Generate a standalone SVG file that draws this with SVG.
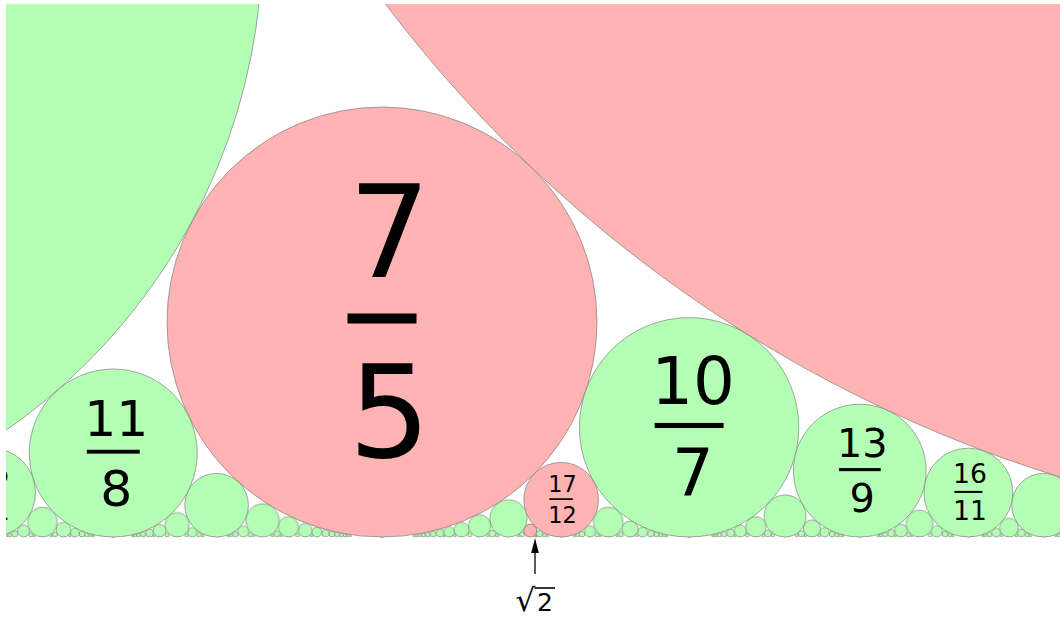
<svg xmlns="http://www.w3.org/2000/svg" width="1060" height="619" viewBox="0 0 1060 619">
<style>
.g{fill:#b3ffb3;stroke:#808080;stroke-width:0.7}
.p{fill:#ffb3b3;stroke:#808080;stroke-width:0.7}
.lbl{font-family:"DejaVu Sans","Liberation Sans",sans-serif;text-anchor:middle;fill:#000}
.bar{fill:#000}
</style>
<defs>
<clipPath id="clip"><rect x="6" y="4" width="1054" height="533.6"/></clipPath>
<pattern id="q14" patternUnits="userSpaceOnUse" x="-15051.929" y="481.15" width="767.857" height="56.85"><circle class="g" cx="383.929" cy="28.42" r="27.423"/></pattern>
<pattern id="q15" patternUnits="userSpaceOnUse" x="-15026.333" y="488.22" width="716.667" height="49.78"><circle class="g" cx="358.333" cy="24.89" r="23.889"/></pattern>
<pattern id="q16" patternUnits="userSpaceOnUse" x="-15003.9375" y="494.01" width="671.875" height="43.99"><circle class="g" cx="335.9375" cy="22.0" r="20.996"/></pattern>
<pattern id="q17" patternUnits="userSpaceOnUse" x="-14984.176" y="498.8" width="632.353" height="39.2" ><circle class="g" cx="316.176" cy="19.6" r="18.599"/></pattern>
<pattern id="q18" patternUnits="userSpaceOnUse" x="-14966.611" y="502.82" width="597.222" height="35.18"><circle class="g" cx="298.611" cy="17.59" r="16.590"/></pattern>
<pattern id="q19" patternUnits="userSpaceOnUse" x="-14950.895" y="506.22" width="565.789" height="31.78"><circle class="g" cx="282.895" cy="15.89" r="14.889"/></pattern>
<pattern id="q20" patternUnits="userSpaceOnUse" x="-14936.75" y="509.125" width="537.5" height="28.875"><circle class="g" cx="268.75" cy="14.4375" r="13.4375"/></pattern>
<pattern id="q21" patternUnits="userSpaceOnUse" x="-14923.952" y="511.62" width="511.905" height="26.38"><circle class="g" cx="255.952" cy="13.19" r="12.188"/></pattern>
<pattern id="q22" patternUnits="userSpaceOnUse" x="-14912.318" y="513.79" width="488.636" height="24.21"><circle class="g" cx="244.318" cy="12.1" r="11.105"/></pattern>
<pattern id="q23" patternUnits="userSpaceOnUse" x="-14901.696" y="515.68" width="467.391" height="22.32"><circle class="g" cx="233.696" cy="11.16" r="10.161"/></pattern>
<pattern id="q24" patternUnits="userSpaceOnUse" x="-14891.958" y="517.34" width="447.917" height="20.66"><circle class="g" cx="223.958" cy="10.33" r="9.332"/></pattern>
<pattern id="q25" patternUnits="userSpaceOnUse" x="-14883" y="518.8" width="430" height="19.2"><circle class="g" cx="215" cy="9.6" r="8.6"/></pattern>
<pattern id="q26" patternUnits="userSpaceOnUse" x="-14874.731" y="520.1" width="413.462" height="17.9"><circle class="g" cx="206.731" cy="8.95" r="7.951"/></pattern>
<pattern id="q27" patternUnits="userSpaceOnUse" x="-14867.074" y="521.25" width="398.148" height="16.75"><circle class="g" cx="199.074" cy="8.37" r="7.373"/></pattern>
<pattern id="q28" patternUnits="userSpaceOnUse" x="-14859.964" y="522.29" width="383.929" height="15.71"><circle class="g" cx="191.964" cy="7.86" r="6.856"/></pattern>
<pattern id="q29" patternUnits="userSpaceOnUse" x="-14853.345" y="523.22" width="370.690" height="14.78"><circle class="g" cx="185.345" cy="7.39" r="6.391"/></pattern>
<pattern id="q30" patternUnits="userSpaceOnUse" x="-14847.167" y="524.06" width="358.333" height="13.94"><circle class="g" cx="179.167" cy="6.97" r="5.972"/></pattern>
<pattern id="q31" patternUnits="userSpaceOnUse" x="-14841.387" y="524.81" width="346.774" height="13.19"><circle class="g" cx="173.387" cy="6.59" r="5.593"/></pattern>
<pattern id="q32" patternUnits="userSpaceOnUse" x="-14835.969" y="525.5" width="335.9375" height="12.5"><circle class="g" cx="167.969" cy="6.25" r="5.249"/></pattern>
<pattern id="q33" patternUnits="userSpaceOnUse" x="-14830.879" y="526.13" width="325.758" height="11.87"><circle class="g" cx="162.879" cy="5.94" r="4.936"/></pattern>
<pattern id="q34" patternUnits="userSpaceOnUse" x="-14826.088" y="526.7" width="316.176" height="11.3"><circle class="g" cx="158.088" cy="5.65" r="4.650"/></pattern>
<pattern id="q35" patternUnits="userSpaceOnUse" x="-14821.571" y="527.22" width="307.143" height="10.78"><circle class="g" cx="153.571" cy="5.39" r="4.388"/></pattern>
<pattern id="q36" patternUnits="userSpaceOnUse" x="-14817.306" y="527.71" width="298.611" height="10.29"><circle class="g" cx="149.306" cy="5.15" r="4.147"/></pattern>
<pattern id="q37" patternUnits="userSpaceOnUse" x="-14813.270" y="528.15" width="290.541" height="9.85"><circle class="g" cx="145.270" cy="4.93" r="3.926"/></pattern>
<pattern id="q38" patternUnits="userSpaceOnUse" x="-14809.447" y="528.56" width="282.895" height="9.44"><circle class="g" cx="141.447" cy="4.72" r="3.722"/></pattern>
<pattern id="q39" patternUnits="userSpaceOnUse" x="-14805.821" y="528.93" width="275.641" height="9.07"><circle class="g" cx="137.821" cy="4.53" r="3.534"/></pattern>
<pattern id="q40" patternUnits="userSpaceOnUse" x="-14802.375" y="529.28" width="268.75" height="8.72"><circle class="g" cx="134.375" cy="4.36" r="3.359"/></pattern>
<pattern id="q41" patternUnits="userSpaceOnUse" x="-14799.098" y="529.61" width="262.195" height="8.39"><circle class="g" cx="131.098" cy="4.2" r="3.197"/></pattern>
<pattern id="q42" patternUnits="userSpaceOnUse" x="-14795.976" y="529.91" width="255.952" height="8.09"><circle class="g" cx="127.976" cy="4.05" r="3.047"/></pattern>
<pattern id="q43" patternUnits="userSpaceOnUse" x="-14793" y="530.19" width="250" height="7.81"><circle class="g" cx="125" cy="3.91" r="2.907"/></pattern>
<pattern id="q44" patternUnits="userSpaceOnUse" x="-14790.159" y="530.45" width="244.318" height="7.55"><circle class="g" cx="122.159" cy="3.78" r="2.776"/></pattern>
<pattern id="q45" patternUnits="userSpaceOnUse" x="-14787.444" y="530.69" width="238.889" height="7.31"><circle class="g" cx="119.444" cy="3.65" r="2.654"/></pattern>
<pattern id="q46" patternUnits="userSpaceOnUse" x="-14784.848" y="530.92" width="233.696" height="7.08"><circle class="g" cx="116.848" cy="3.54" r="2.540"/></pattern>
<pattern id="q47" patternUnits="userSpaceOnUse" x="-14782.362" y="531.13" width="228.723" height="6.87"><circle class="g" cx="114.362" cy="3.43" r="2.433"/></pattern>
<pattern id="q48" patternUnits="userSpaceOnUse" x="-14779.979" y="531.33" width="223.958" height="6.67"><circle class="g" cx="111.979" cy="3.33" r="2.333"/></pattern>
<pattern id="q49" patternUnits="userSpaceOnUse" x="-14777.694" y="531.52" width="219.388" height="6.48"><circle class="g" cx="109.694" cy="3.24" r="2.239"/></pattern>
<pattern id="q50" patternUnits="userSpaceOnUse" x="-14775.5" y="531.7" width="215" height="6.3"><circle class="g" cx="107.5" cy="3.15" r="2.15"/></pattern>
<pattern id="q51" patternUnits="userSpaceOnUse" x="-14773.392" y="531.87" width="210.784" height="6.13"><circle class="g" cx="105.392" cy="3.07" r="2.067"/></pattern>
<pattern id="q52" patternUnits="userSpaceOnUse" x="-14771.365" y="532.02" width="206.731" height="5.98"><circle class="g" cx="103.365" cy="2.99" r="1.988"/></pattern>
<pattern id="q53" patternUnits="userSpaceOnUse" x="-14769.415" y="532.17" width="202.830" height="5.83"><circle class="g" cx="101.415" cy="2.91" r="1.913"/></pattern>
<pattern id="q54" patternUnits="userSpaceOnUse" x="-14767.537" y="532.31" width="199.074" height="5.69"><circle class="g" cx="99.537" cy="2.84" r="1.843"/></pattern>
<pattern id="q55" patternUnits="userSpaceOnUse" x="-14765.727" y="532.45" width="195.455" height="5.55"><circle class="g" cx="97.727" cy="2.78" r="1.777"/></pattern>
<pattern id="q56" patternUnits="userSpaceOnUse" x="-14763.982" y="532.57" width="191.964" height="5.43"><circle class="g" cx="95.982" cy="2.71" r="1.714"/></pattern>
<pattern id="q57" patternUnits="userSpaceOnUse" x="-14762.298" y="532.69" width="188.596" height="5.31"><circle class="g" cx="94.298" cy="2.65" r="1.654"/></pattern>
<pattern id="q58" patternUnits="userSpaceOnUse" x="-14760.672" y="532.8" width="185.345" height="5.2"><circle class="g" cx="92.672" cy="2.6" r="1.598"/></pattern>
<pattern id="q59" patternUnits="userSpaceOnUse" x="-14759.102" y="532.91" width="182.203" height="5.09"><circle class="g" cx="91.102" cy="2.54" r="1.544"/></pattern>
<pattern id="q60" patternUnits="userSpaceOnUse" x="-14757.583" y="533.01" width="179.167" height="4.99"><circle class="g" cx="89.583" cy="2.49" r="1.493"/></pattern>
<pattern id="q61" patternUnits="userSpaceOnUse" x="-14756.115" y="533.11" width="176.230" height="4.89"><circle class="g" cx="88.115" cy="2.45" r="1.445"/></pattern>
<pattern id="q62" patternUnits="userSpaceOnUse" x="-14754.694" y="533.2" width="173.387" height="4.8"><circle class="g" cx="86.694" cy="2.4" r="1.398"/></pattern>
<pattern id="q63" patternUnits="userSpaceOnUse" x="-14753.317" y="533.29" width="170.635" height="4.71"><circle class="g" cx="85.317" cy="2.35" r="1.354"/></pattern>
<pattern id="q64" patternUnits="userSpaceOnUse" x="-14751.984" y="533.38" width="167.969" height="4.62"><circle class="g" cx="83.984" cy="2.31" r="1.312"/></pattern>
<pattern id="q65" patternUnits="userSpaceOnUse" x="-14750.692" y="533.46" width="165.385" height="4.54"><circle class="g" cx="82.692" cy="2.27" r="1.272"/></pattern>
<pattern id="q66" patternUnits="userSpaceOnUse" x="-14749.439" y="533.53" width="162.879" height="4.47"><circle class="g" cx="81.439" cy="2.23" r="1.234"/></pattern>
<pattern id="q67" patternUnits="userSpaceOnUse" x="-14748.224" y="533.61" width="160.448" height="4.39"><circle class="g" cx="80.224" cy="2.2" r="1.197"/></pattern>
<pattern id="q68" patternUnits="userSpaceOnUse" x="-14747.044" y="533.68" width="158.088" height="4.32"><circle class="g" cx="79.044" cy="2.16" r="1.162"/></pattern>
<pattern id="q69" patternUnits="userSpaceOnUse" x="-14745.899" y="533.74" width="155.797" height="4.26"><circle class="g" cx="77.899" cy="2.13" r="1.129"/></pattern>
<pattern id="q70" patternUnits="userSpaceOnUse" x="-14744.786" y="533.81" width="153.571" height="4.19"><circle class="g" cx="76.786" cy="2.1" r="1.097"/></pattern>
</defs>
<g clip-path="url(#clip)">
<g id="small-circles">
<rect x="6" y="533.81" width="1054" height="4.19" fill="url(#q70)"/>
<rect x="6" y="533.74" width="1054" height="4.26" fill="url(#q69)"/>
<rect x="6" y="533.68" width="1054" height="4.32" fill="url(#q68)"/>
<rect x="6" y="533.61" width="1054" height="4.39" fill="url(#q67)"/>
<rect x="6" y="533.53" width="1054" height="4.47" fill="url(#q66)"/>
<rect x="6" y="533.46" width="1054" height="4.54" fill="url(#q65)"/>
<rect x="6" y="533.38" width="1054" height="4.62" fill="url(#q64)"/>
<rect x="6" y="533.29" width="1054" height="4.71" fill="url(#q63)"/>
<rect x="6" y="533.2" width="1054" height="4.8" fill="url(#q62)"/>
<rect x="6" y="533.11" width="1054" height="4.89" fill="url(#q61)"/>
<rect x="6" y="533.01" width="1054" height="4.99" fill="url(#q60)"/>
<rect x="6" y="532.91" width="1054" height="5.09" fill="url(#q59)"/>
<rect x="6" y="532.8" width="1054" height="5.2" fill="url(#q58)"/>
<rect x="6" y="532.69" width="1054" height="5.31" fill="url(#q57)"/>
<rect x="6" y="532.57" width="1054" height="5.43" fill="url(#q56)"/>
<rect x="6" y="532.45" width="1054" height="5.55" fill="url(#q55)"/>
<rect x="6" y="532.31" width="1054" height="5.69" fill="url(#q54)"/>
<rect x="6" y="532.17" width="1054" height="5.83" fill="url(#q53)"/>
<rect x="6" y="532.02" width="1054" height="5.98" fill="url(#q52)"/>
<rect x="6" y="531.87" width="1054" height="6.13" fill="url(#q51)"/>
<rect x="6" y="531.7" width="1054" height="6.3" fill="url(#q50)"/>
<rect x="6" y="531.52" width="1054" height="6.48" fill="url(#q49)"/>
<rect x="6" y="531.33" width="1054" height="6.67" fill="url(#q48)"/>
<rect x="6" y="531.13" width="1054" height="6.87" fill="url(#q47)"/>
<rect x="6" y="530.92" width="1054" height="7.08" fill="url(#q46)"/>
<rect x="6" y="530.69" width="1054" height="7.31" fill="url(#q45)"/>
<rect x="6" y="530.45" width="1054" height="7.55" fill="url(#q44)"/>
<rect x="6" y="530.19" width="1054" height="7.81" fill="url(#q43)"/>
<rect x="6" y="529.91" width="1054" height="8.09" fill="url(#q42)"/>
<rect x="6" y="529.61" width="1054" height="8.39" fill="url(#q41)"/>
<rect x="6" y="529.28" width="1054" height="8.72" fill="url(#q40)"/>
<rect x="6" y="528.93" width="1054" height="9.07" fill="url(#q39)"/>
<rect x="6" y="528.56" width="1054" height="9.44" fill="url(#q38)"/>
<rect x="6" y="528.15" width="1054" height="9.85" fill="url(#q37)"/>
<rect x="6" y="527.71" width="1054" height="10.29" fill="url(#q36)"/>
<rect x="6" y="527.22" width="1054" height="10.78" fill="url(#q35)"/>
<rect x="6" y="526.7" width="1054" height="11.3" fill="url(#q34)"/>
<rect x="6" y="526.13" width="1054" height="11.87" fill="url(#q33)"/>
<rect x="6" y="525.5" width="1054" height="12.5" fill="url(#q32)"/>
<rect x="6" y="524.81" width="1054" height="13.19" fill="url(#q31)"/>
<rect x="6" y="524.06" width="1054" height="13.94" fill="url(#q30)"/>
<rect x="6" y="523.22" width="1054" height="14.78" fill="url(#q29)"/>
<rect x="6" y="522.29" width="1054" height="15.71" fill="url(#q28)"/>
<rect x="6" y="521.25" width="1054" height="16.75" fill="url(#q27)"/>
<rect x="6" y="520.1" width="1054" height="17.9" fill="url(#q26)"/>
<rect x="6" y="518.8" width="1054" height="19.2" fill="url(#q25)"/>
<rect x="6" y="517.34" width="1054" height="20.66" fill="url(#q24)"/>
<rect x="6" y="515.68" width="1054" height="22.32" fill="url(#q23)"/>
<rect x="6" y="513.79" width="1054" height="24.21" fill="url(#q22)"/>
<rect x="6" y="511.62" width="1054" height="26.38" fill="url(#q21)"/>
<rect x="6" y="509.125" width="1054" height="28.875" fill="url(#q20)"/>
<rect x="6" y="506.22" width="1054" height="31.78" fill="url(#q19)"/>
<rect x="6" y="502.82" width="1054" height="35.18" fill="url(#q18)"/>
<rect x="6" y="498.8" width="1054" height="39.2" fill="url(#q17)"/>
<rect x="6" y="494.01" width="1054" height="43.99" fill="url(#q16)"/>
<rect x="6" y="488.22" width="1054" height="49.78" fill="url(#q15)"/>
<rect x="6" y="481.15" width="1054" height="56.85" fill="url(#q14)"/>
<circle class="p" cx="535.57" cy="535.9" r="1.097"/>
<circle class="p" cx="530.28" cy="530.61" r="6.391"/>
</g>
<g id="c18-13"><circle class="g" cx="216.62" cy="505.2" r="31.80"/></g>
<g id="c19-13"><circle class="g" cx="1043.54" cy="505.2" r="31.80"/></g>
<g id="c17-12">
<circle class="p" cx="561.17" cy="499.67" r="37.33"/>
<rect class="bar" x="549.4" y="498.25" width="23.5" height="1.7"/>
<text class="lbl" x="562.5" y="491.9" font-size="22.4">17</text>
<text class="lbl" x="562.5" y="523.1" font-size="22.4">12</text>
</g>
<g id="c15-11">
<circle class="g" cx="-8.91" cy="492.58" r="44.42"/>
<rect class="bar" x="-22.9" y="490.9" width="28" height="2.05"/>
<text class="lbl" x="-7.3" y="483.4" font-size="26.65">15</text>
<text class="lbl" x="-7.3" y="520.4" font-size="26.65">11</text>
</g>
<g id="c16-11">
<circle class="g" cx="968.36" cy="492.58" r="44.42"/>
<rect class="bar" x="954.4" y="490.9" width="28" height="2.05"/>
<text class="lbl" x="970" y="483.4" font-size="26.65">16</text>
<text class="lbl" x="970" y="520.4" font-size="26.65">11</text>
</g>
<g id="c13-9">
<circle class="g" cx="859.78" cy="470.64" r="66.36"/>
<rect class="bar" x="838.9" y="468.05" width="41.8" height="3.1"/>
<text class="lbl" x="862.2" y="456.9" font-size="39.8">13</text>
<text class="lbl" x="862.2" y="512.2" font-size="39.8">9</text>
</g>
<g id="c11-8">
<circle class="g" cx="113.25" cy="453.02" r="83.98"/>
<rect class="bar" x="86.8" y="449.75" width="52.9" height="3.9"/>
<text class="lbl" x="116.3" y="435.6" font-size="50.4">11</text>
<text class="lbl" x="116.3" y="505.6" font-size="50.4">8</text>
</g>
<g id="c10-7">
<circle class="g" cx="689.1" cy="427.31" r="109.69"/>
<rect class="bar" x="654.6" y="422.95" width="69" height="5.1"/>
<text class="lbl" x="693" y="404.4" font-size="65.8">10</text>
<text class="lbl" x="693" y="495.9" font-size="65.8">7</text>
</g>
<g id="c7-5">
<circle class="p" cx="382" cy="322" r="215"/>
<rect class="bar" x="347.5" y="313.5" width="69" height="10"/>
<text class="lbl" x="389.5" y="277.2" font-size="129">7</text>
<text class="lbl" x="389.5" y="456.5" font-size="129">5</text>
</g>
<g id="c4-3"><circle class="g" cx="-334.67" cy="-60.22" r="597.22"/></g>
<g id="c3-2"><circle class="p" cx="1457" cy="-806.75" r="1343.75"/></g>
</g>
<g id="connectors">
<line x1="535" y1="552" x2="535" y2="574" stroke="#000" stroke-width="1.3"/>
<polygon points="535,538 531.2,553 538.8,553" fill="#000"/>
</g>
<g id="sqrt2-label">
<text x="515.5" y="611" font-size="31" font-family="DejaVu Sans, sans-serif">√</text>
<text x="537" y="611" font-size="25" font-family="DejaVu Sans, sans-serif">2</text>
<line x1="534.5" y1="588" x2="555" y2="588" stroke="#000" stroke-width="1.6"/>
</g>
</svg>
